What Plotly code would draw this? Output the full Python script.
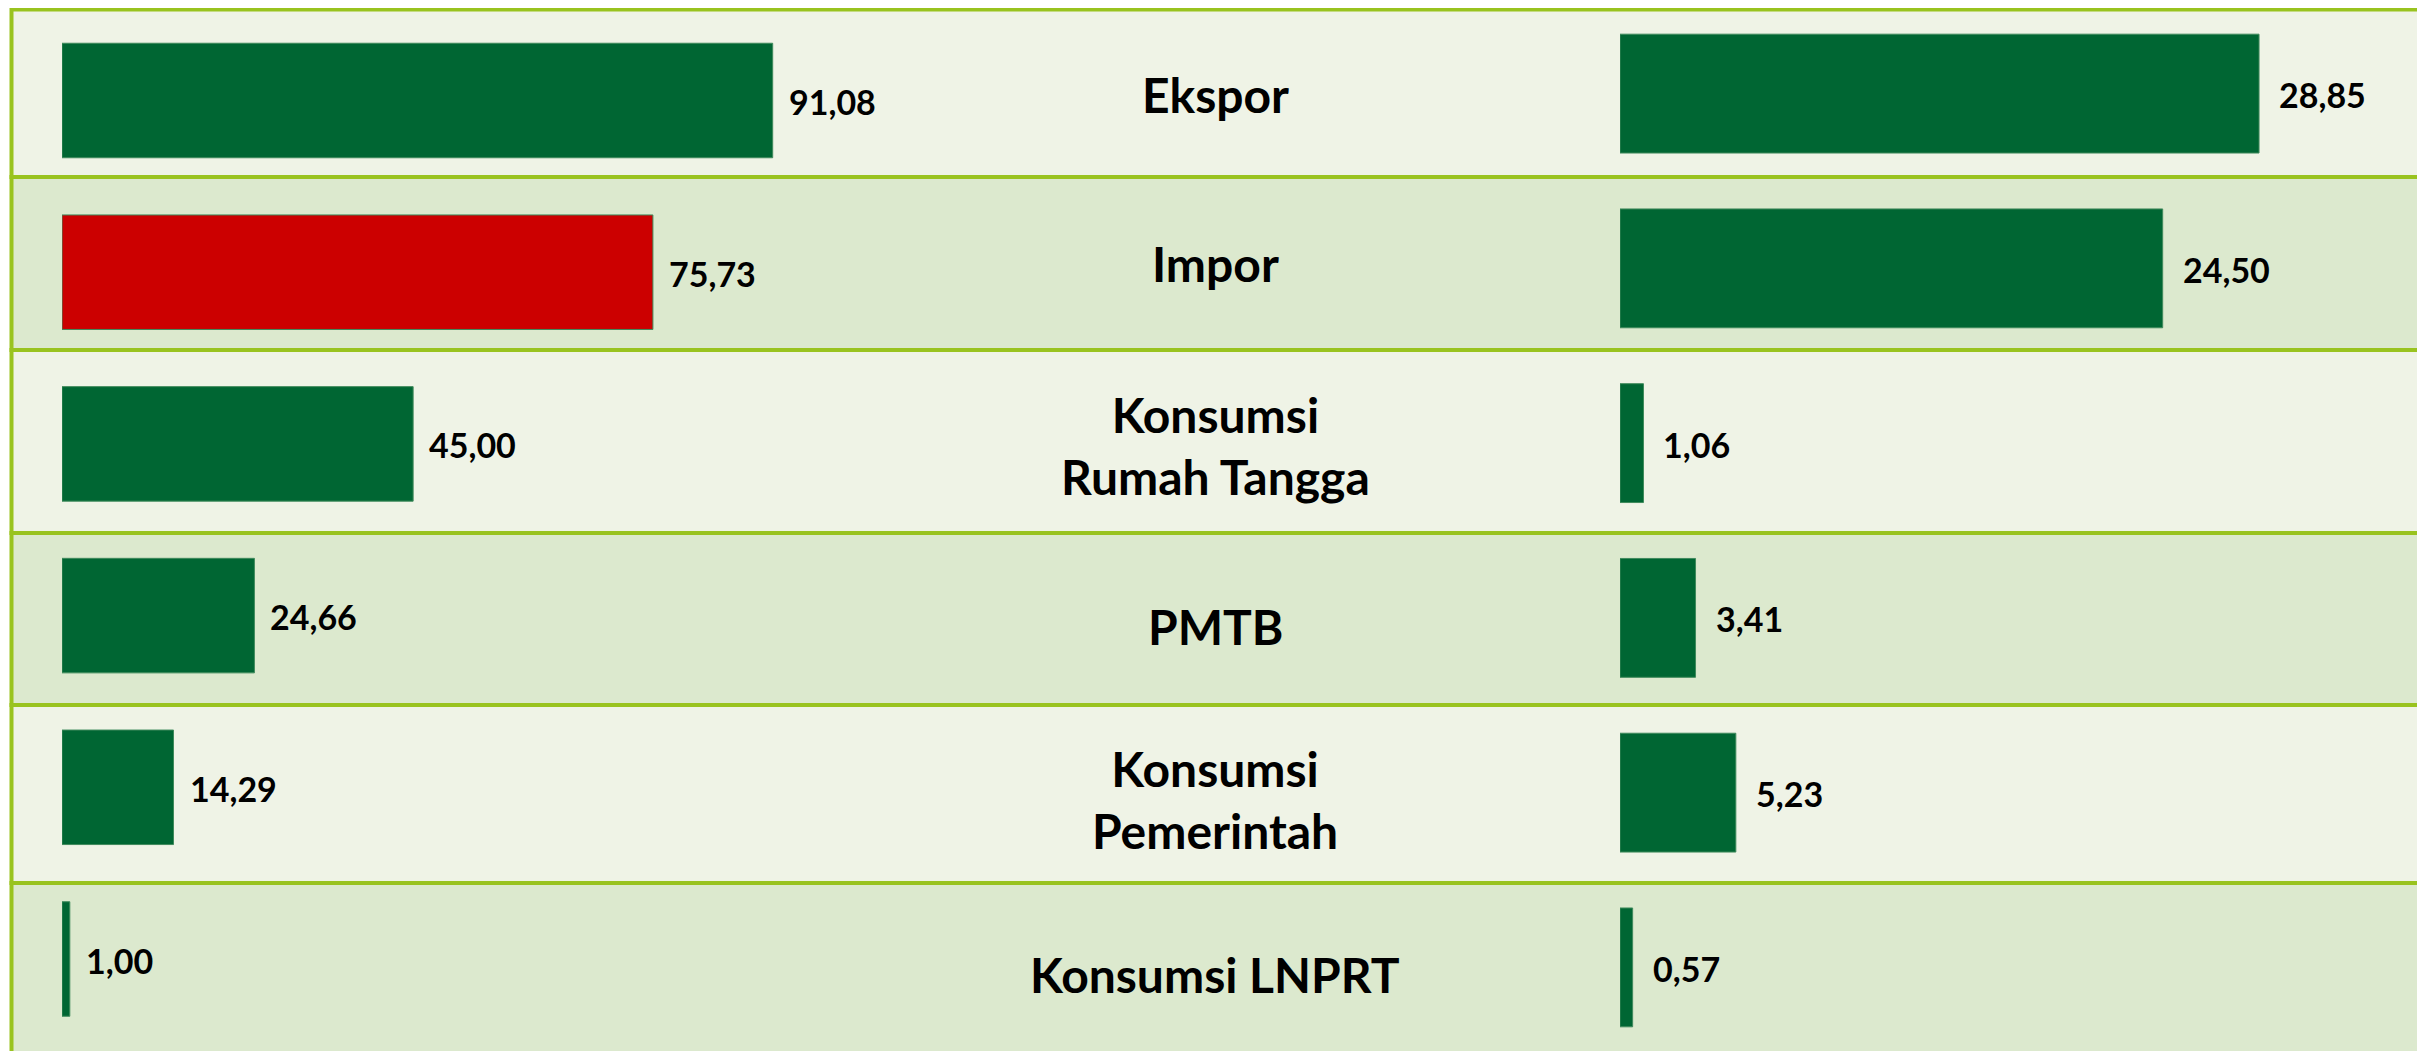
import plotly.graph_objects as go

# data
categories = ["Ekspor", "Impor", "Konsumsi<br>Rumah Tangga", "PMTB",
              "Konsumsi<br>Pemerintah", "Konsumsi LNPRT"]
left_values = [91.08, 75.73, 45.00, 24.66, 14.29, 1.00]
right_values = [28.85, 24.50, 1.06, 3.41, 5.23, 0.57]
left_colors = ["#006633", "#CC0000", "#006633", "#006633", "#006633", "#006633"]
right_colors = ["#006633"] * 6

# the page body adds an 8px margin, so the figure is placed at (8, 8)
OFF = 8
W, H = 2425 - OFF, 1051 - OFF
FONT = "Lato, 'Open Sans', sans-serif"
ROW_BG = ["#EFF3E6", "#DCE9CE"]
BORDER = "#99C31F"
ROW_EDGES = [9.5, 177, 350, 533, 705, 883, 1062]  # screen px from top
LABEL_Y = [94, 264, 445, 626, 799, 974]           # screen px, category labels


def fmt(v):
    return f"{v:.2f}".replace(".", ",")


def px(sx):
    return (sx - OFF) / W


def py(sy):
    return 1 - (sy - OFF) / H


fig = go.Figure()

fig.add_trace(go.Bar(
    y=categories, x=left_values, orientation="h",
    marker=dict(color=left_colors, line=dict(color="#3f8a5c", width=1)),
    width=0.667, xaxis="x", yaxis="y", hoverinfo="skip",
))
fig.add_trace(go.Bar(
    y=categories, x=right_values, orientation="h",
    marker=dict(color=right_colors, line=dict(color="#3f8a5c", width=1)),
    width=0.68, xaxis="x2", yaxis="y2", hoverinfo="skip",
))

annotations = []
for cat, v in zip(categories, left_values):
    annotations.append(dict(
        x=v, y=cat, xref="x", yref="y", text=fmt(v), showarrow=False,
        xanchor="left", yanchor="middle", xshift=14, yshift=-1,
        font=dict(family=FONT, size=34, color="black", weight="bold"),
    ))
for cat, v in zip(categories, right_values):
    annotations.append(dict(
        x=v, y=cat, xref="x2", yref="y2", text=fmt(v), showarrow=False,
        xanchor="left", yanchor="middle", xshift=18, yshift=-1,
        font=dict(family=FONT, size=34, color="black", weight="bold"),
    ))

# category labels in the middle column, striped row backgrounds
shapes = []
for i, cat in enumerate(categories):
    annotations.append(dict(
        x=px(1215), y=py(LABEL_Y[i]), xref="paper", yref="paper",
        text=cat, showarrow=False, xanchor="center", yanchor="middle",
        font=dict(family=FONT, size=48, color="black", weight="bold"),
    ))
    shapes.append(dict(
        type="rect", xref="paper", yref="paper", layer="below",
        x0=px(11.5), x1=px(2421.5), y0=py(ROW_EDGES[i + 1]), y1=py(ROW_EDGES[i]),
        fillcolor=ROW_BG[i % 2], line=dict(color=BORDER, width=4),
    ))

# right panel: category pitch 174.76 px, first bar centre at screen y 93.6
R_PITCH, R_C0 = 174.76, 93.6
r_top = (OFF - R_C0) / R_PITCH
r_bot = (1051 - R_C0) / R_PITCH

fig.update_layout(
    width=W, height=H,
    margin=dict(l=0, r=0, t=0, b=0),
    paper_bgcolor="white",
    plot_bgcolor="rgba(0,0,0,0)",
    showlegend=False,
    xaxis=dict(domain=[px(62), px(1100)], range=[0, (1100 - 62) / 7.803],
               visible=False, fixedrange=True),
    yaxis=dict(domain=[py(1044.85), py(14.65)], range=[5.5, -0.5],
               visible=False, fixedrange=True),
    xaxis2=dict(domain=[px(1620), 1.0], range=[0, (2425 - 1620) / 22.15],
                visible=False, fixedrange=True, anchor="y2"),
    yaxis2=dict(domain=[0, 1], range=[r_bot, r_top],
                visible=False, fixedrange=True, anchor="x2"),
    annotations=annotations,
    shapes=shapes,
)

fig.write_html("out.html")
